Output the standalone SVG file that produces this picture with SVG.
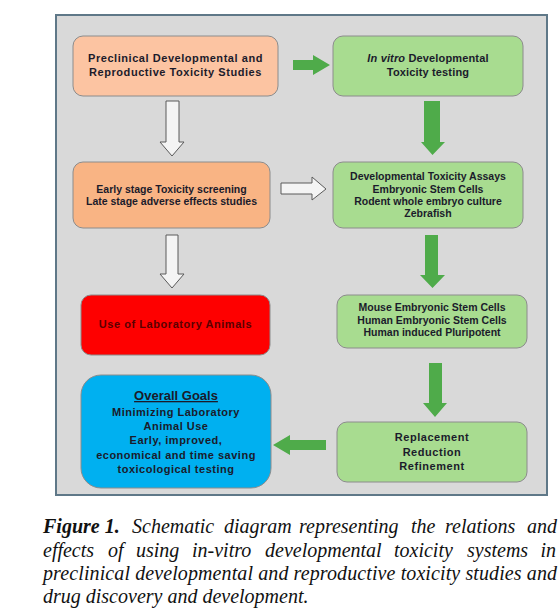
<svg xmlns="http://www.w3.org/2000/svg" width="560" height="615" viewBox="0 0 560 615">
<style>
  .bx { stroke: #8c8c8c; stroke-width: 1; }
  .t { font-family: "Liberation Sans", Arial, sans-serif; font-weight: bold; font-size: 10.5px; fill: #1b1b2b; text-anchor: middle; }
  .w { font-size: 11px; letter-spacing: 0.55px; }
  .hollow { fill: #f4f4f4; stroke: #5a5a5a; stroke-width: 1; }
  .green { fill: #4fab4a; stroke: none; }
  .cap { font-family: "Liberation Serif", "Times New Roman", serif; font-style: italic; font-size: 20px; fill: #111; }
</style>
<rect x="0" y="0" width="560" height="615" fill="#ffffff"/>
<rect id="panel" x="56" y="15" width="491" height="480" fill="#d9d9d9" stroke="#5f7888" stroke-width="2"/>

<g id="connectors">
  <path class="green" d="M293,60 H313 V55 L330,65 L313,75 V70 H293 Z"/>
  <path class="hollow" d="M166,101 H179 V142 H184 L172,156 L160,142 H166 Z"/>
  <path class="green" d="M424,101 H440 V142 H445 L432.5,155 L421,142 H424 Z"/>
  <path class="hollow" d="M281,183 H312 V177 L326,189 L312,200 V194 H281 Z"/>
  <path class="hollow" d="M166,235 H178 V274 H184 L172,288 L160,274 H166 Z"/>
  <path class="green" d="M425,235 H438 V275 H445 L432.5,288 L420,275 H425 Z"/>
  <path class="green" d="M429,363 H442 V403 H447 L435,417 L423,403 H429 Z"/>
  <path class="green" d="M326,440 H290 V435 L273,445 L290,455 V450 H326 Z"/>
</g>

<g id="preclinical">
  <rect class="bx" x="73" y="36" width="205" height="60" rx="10" fill="#fcc4a2"/>
  <text class="t w" x="175.5" y="62">Preclinical Developmental and</text>
  <text class="t w" x="175.5" y="76">Reproductive Toxicity Studies</text>
</g>
<g id="invitro">
  <rect class="bx" x="333" y="36" width="190" height="60" rx="10" fill="#a8dc90"/>
  <text class="t" x="428" y="62" style="font-size:11px;letter-spacing:0.15px"><tspan font-style="italic">In vitro</tspan> Developmental</text>
  <text class="t" x="428" y="76" style="font-size:11px;letter-spacing:0.15px">Toxicity testing</text>
</g>
<g id="screening">
  <rect class="bx" x="73" y="162" width="197" height="66" rx="10" fill="#f9b484"/>
  <text class="t" x="171.5" y="192.5">Early stage Toxicity screening</text>
  <text class="t" x="171.5" y="204.5">Late stage adverse effects studies</text>
</g>
<g id="assays">
  <rect class="bx" x="333" y="162" width="190" height="66" rx="10" fill="#a8dc90"/>
  <text class="t" x="428" y="180">Developmental Toxicity Assays</text>
  <text class="t" x="428" y="192.5">Embryonic Stem Cells</text>
  <text class="t" x="428" y="205">Rodent whole embryo culture</text>
  <text class="t" x="428" y="217">Zebrafish</text>
</g>
<g id="animals">
  <rect class="bx" x="81" y="295" width="189" height="60" rx="10" fill="#fe0000" stroke="#c00000"/>
  <text class="t w" x="175.5" y="328" style="fill:#5a0000">Use of Laboratory Animals</text>
</g>
<g id="stemcells">
  <rect class="bx" x="337" y="295" width="190" height="53" rx="10" fill="#a8dc90"/>
  <text class="t" x="432" y="311">Mouse Embryonic Stem Cells</text>
  <text class="t" x="432" y="323.5">Human Embryonic Stem Cells</text>
  <text class="t" x="432" y="336">Human induced Pluripotent</text>
</g>
<g id="goals">
  <rect class="bx" x="81" y="375" width="190" height="113" rx="20" fill="#00b0f0" stroke="#0090c8"/>
  <text class="t" x="176" y="400" style="font-size:13px" text-decoration="underline">Overall Goals</text>
  <text class="t w" x="176" y="416" style="letter-spacing:0.5px">Minimizing Laboratory</text>
  <text class="t w" x="176" y="430" style="letter-spacing:0.5px">Animal Use</text>
  <text class="t w" x="176" y="444" style="letter-spacing:0.5px">Early, improved,</text>
  <text class="t w" x="176" y="459" style="letter-spacing:0.5px">economical and time saving</text>
  <text class="t w" x="176" y="473" style="letter-spacing:0.5px">toxicological testing</text>
</g>
<g id="3r">
  <rect class="bx" x="337" y="422" width="190" height="60" rx="10" fill="#a8dc90"/>
  <text class="t w" x="432" y="441">Replacement</text>
  <text class="t w" x="432" y="455.5">Reduction</text>
  <text class="t w" x="432" y="470">Refinement</text>
</g>

<g id="caption">
  <text class="cap" y="533">
    <tspan x="43" font-weight="bold">Figure 1.</tspan>
    <tspan x="132">Schematic</tspan>
    <tspan x="224">diagram</tspan>
    <tspan x="299">representing</tspan>
    <tspan x="411">the</tspan>
    <tspan x="445">relations</tspan>
  </text>
  <text class="cap" x="557" y="533" text-anchor="end">and</text>
  <text class="cap" y="556.5">
    <tspan x="43">effects</tspan>
    <tspan x="108">of</tspan>
    <tspan x="136">using</tspan>
    <tspan x="192">in-vitro</tspan>
    <tspan x="265">developmental</tspan>
    <tspan x="394">toxicity</tspan>
    <tspan x="467">systems</tspan>
  </text>
  <text class="cap" x="556" y="556.5" text-anchor="end">in</text>
  <text class="cap" x="43" y="580" textLength="514" lengthAdjust="spacing">preclinical developmental and reproductive toxicity studies and</text>
  <text class="cap" x="43" y="603">drug discovery and development.</text>
</g>
</svg>
